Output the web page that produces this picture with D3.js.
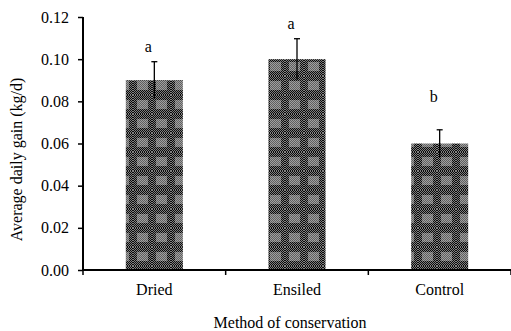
<!DOCTYPE html>
<html>
<head>
<meta charset="utf-8">
<script src="https://cdn.jsdelivr.net/npm/d3@7"></script>
<style>
  body { margin: 0; background: #fff; }
  svg { display: block; font-family: "Liberation Serif", "Times New Roman", serif; }
</style>
</head>
<body>
<div id="chart"></div>
<script>
// chart values
const methods = ["Dried", "Ensiled", "Control"];
const gain = [0.09, 0.10, 0.06];
const gainErr = [0.0088, 0.0097, 0.0065];
const letters = ["a", "a", "b"];
const letterAt = [0.1034, 0.1143, 0.0797];
const yTicks = [0, 0.02, 0.04, 0.06, 0.08, 0.10, 0.12];

const width = 511, height = 331;
const margin = {top: 17, right: 0, bottom: 61, left: 83};
const fontSize = "16px";

const svg = d3.select("#chart").append("svg")
    .attr("width", width)
    .attr("height", height);

// fine checker fill that mimics the excel pattern
const defs = svg.append("defs");
const checker = defs.append("pattern")
    .attr("id", "checker")
    .attr("width", 2).attr("height", 2)
    .attr("patternUnits", "userSpaceOnUse");
checker.append("rect").attr("width", 2).attr("height", 2).attr("fill", "#111");
checker.append("rect").attr("width", 1).attr("height", 1).attr("fill", "#ddd");
checker.append("rect").attr("x", 1).attr("y", 1).attr("width", 1).attr("height", 1).attr("fill", "#ddd");

const tile = defs.append("pattern")
    .attr("id", "tile")
    .attr("width", 19).attr("height", 19)
    .attr("patternUnits", "userSpaceOnUse");
tile.append("rect").attr("width", 19).attr("height", 19).attr("fill", "url(#checker)");
tile.append("rect").attr("width", 19).attr("height", 19)
    .attr("fill", "#000").attr("opacity", 0.42);
tile.append("rect").attr("x", 4).attr("y", 5).attr("width", 11).attr("height", 9)
    .attr("fill", "#c8c8c8").attr("opacity", 0.45);

const x = d3.scaleBand()
    .domain(methods)
    .range([margin.left, width - margin.right])
    .paddingInner(0.6)
    .paddingOuter(0.3);

const y = d3.scaleLinear()
    .domain([0, 0.12])
    .range([height - margin.bottom, margin.top]);

// bars
svg.selectAll("rect.bar")
    .data(methods)
    .enter().append("rect")
    .attr("class", "bar")
    .attr("x", d => x(d))
    .attr("y", (d, i) => y(gain[i]))
    .attr("width", x.bandwidth())
    .attr("height", (d, i) => y(0) - y(gain[i]))
    .attr("fill", "url(#tile)");

// error bars
const eb = svg.selectAll("g.err")
    .data(methods)
    .enter().append("g")
    .attr("class", "err")
    .attr("stroke", "#000")
    .attr("stroke-width", 1.3);
eb.append("line")
    .attr("x1", d => x(d) + x.bandwidth() / 2)
    .attr("x2", d => x(d) + x.bandwidth() / 2)
    .attr("y1", (d, i) => y(gain[i] + gainErr[i]))
    .attr("y2", (d, i) => y(gain[i] - gainErr[i]));
eb.append("line")
    .attr("x1", d => x(d) + x.bandwidth() / 2 - 3)
    .attr("x2", d => x(d) + x.bandwidth() / 2 + 3)
    .attr("y1", (d, i) => y(gain[i] + gainErr[i]))
    .attr("y2", (d, i) => y(gain[i] + gainErr[i]));

// significance letters
svg.selectAll("text.letter")
    .data(methods)
    .enter().append("text")
    .attr("class", "letter")
    .attr("x", d => x(d) + x.bandwidth() / 2 - 6)
    .attr("y", (d, i) => y(letterAt[i]))
    .attr("text-anchor", "middle")
    .attr("font-size", fontSize)
    .text((d, i) => letters[i]);

// y axis
const yAxis = svg.append("g")
    .attr("transform", `translate(${margin.left},0)`)
    .call(d3.axisLeft(y).tickValues(yTicks).tickFormat(d3.format(".2f")).tickSize(5).tickPadding(9));
yAxis.attr("font-family", null);
yAxis.select(".domain").attr("stroke-width", 2).attr("d", `M0,${y(0.12)}V${y(0)}`);
yAxis.selectAll(".tick line").attr("stroke-width", 1.5);
yAxis.selectAll(".tick text")
    .attr("font-size", fontSize)
    .attr("fill", "#000");

// x axis with ticks on category boundaries
const xAxis = svg.append("g")
    .attr("transform", `translate(0,${y(0)})`)
    .call(d3.axisBottom(x).tickSize(0).tickPadding(14));
xAxis.attr("font-family", null);
xAxis.select(".domain").attr("stroke-width", 2).attr("d", `M${margin.left},0H${width}`);
xAxis.selectAll(".tick text")
    .attr("font-size", fontSize)
    .attr("fill", "#000");
const halfGap = (x.step() - x.bandwidth()) / 2;
const bounds = methods.map(d => x(d) - halfGap).concat([width]);
xAxis.selectAll("line.bound")
    .data(bounds)
    .enter().append("line")
    .attr("class", "bound")
    .attr("x1", d => d).attr("x2", d => d)
    .attr("y1", 0).attr("y2", 5)
    .attr("stroke", "#000")
    .attr("stroke-width", 1.5);

// axis titles
svg.append("text")
    .attr("transform", `translate(22,${(y(0) + y(0.12)) / 2 + 16}) rotate(-90)`)
    .attr("text-anchor", "middle")
    .attr("font-size", fontSize)
    .text("Average daily gain (kg/d)");

svg.append("text")
    .attr("x", 290)
    .attr("y", 328)
    .attr("text-anchor", "middle")
    .attr("font-size", fontSize)
    .text("Method of conservation");
</script>
</body>
</html>
